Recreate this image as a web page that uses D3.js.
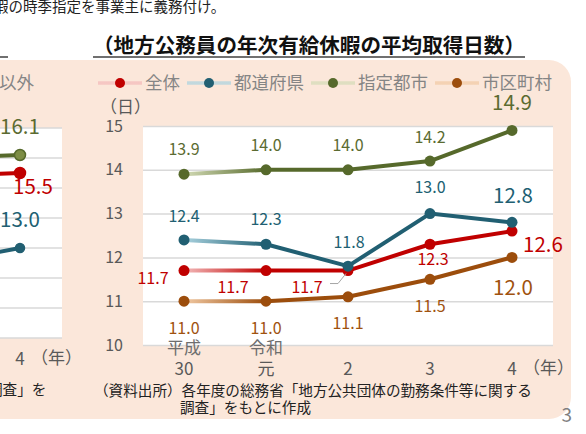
<!DOCTYPE html>
<html lang="ja">
<head>
<meta charset="utf-8">
<script src="https://cdn.jsdelivr.net/npm/d3@7"></script>
<style>
  html, body { margin: 0; padding: 0; background: #fff; overflow: hidden; }
  svg { display: block; font-family: "Noto Sans CJK JP", "Noto Sans", sans-serif; }
</style>
</head>
<body>
<svg id="chart"></svg>
<script>
// main chart data
const years = ['30', '元', '2', '3', '4'];
const eras = ['平成', '令和', '', '', ''];
const seriesNames = ['全体', '都道府県', '指定都市', '市区町村'];
const zentai = [11.7, 11.7, 11.7, 12.3, 12.6];
const todofuken = [12.4, 12.3, 11.8, 13.0, 12.8];
const shitei = [13.9, 14.0, 14.0, 14.2, 14.9];
const shikuchoson = [11.0, 11.0, 11.1, 11.5, 12.0];
const yTicks = [10, 11, 12, 13, 14, 15];

// neighbour chart, cut off at the left edge (only its last year shows)
const leftYears = ['3', '4'];
const leftShitei = [16.0, 16.1];
const leftZentai = [15.4, 15.5];
const leftTodofuken = [12.5, 13.0];
const leftTicks = [10, 11, 12, 13, 14, 15, 16, 17];

(function () {
  'use strict';

  const W = 586, H = 434;
  const FONT = '"Noto Sans CJK JP", "Noto Sans", sans-serif';
  const svg = d3.select('#chart').attr('width', W).attr('height', H);
  const defs = svg.append('defs');

  const series = [
    { name: seriesNames[0], values: zentai, color: '#c00000', light: '#f3b9b9', text: '#c00000' },
    { name: seriesNames[1], values: todofuken, color: '#215f72', light: '#a9d2df', text: '#215f72' },
    { name: seriesNames[2], values: shitei, color: '#56692b', light: '#d3dbb6', text: '#5b6b31' },
    { name: seriesNames[3], values: shikuchoson, color: '#9c4d0c', light: '#f1c9a3', text: '#a0520f' }
  ];

  // label offsets from each point: dx, dy, big?
  const labelPos = {
    '全体': [[-31, 8, 0], [-33, 17, 0], [-41, 17, 0], [3, 15, 0], [31, 13, 1]],
    '都道府県': [[0, -24, 0], [0, -25, 0], [1, -24, 0], [0, -26, 0], [1, -27, 1]],
    '指定都市': [[0, -25, 0], [0, -25, 0], [0, -25, 0], [0, -24, 0], [0, -28, 1]],
    '市区町村': [[0, 27, 0], [0, 27, 0], [0, 26, 0], [0, 27, 0], [1, 30, 1]]
  };

  // fragment of the text above
  svg.append('text')
    .attr('x', -6).attr('y', 12)
    .attr('font-size', 14.5).attr('fill', '#222')
    .text('暇の時季指定を事業主に義務付け。');

  // peach panel
  const p = { x0: -20, y0: 60, x1: 571, y1: 419, r: 22 };
  svg.append('path')
    .attr('d', `M${p.x0},${p.y0} H${p.x1 - p.r} A${p.r},${p.r} 0 0 1 ${p.x1},${p.y0 + p.r}` +
      ` V${p.y1 - p.r} A${p.r},${p.r} 0 0 1 ${p.x1 - p.r},${p.y1} H${p.x0} Z`)
    .attr('fill', '#fbe7da');

  // title
  svg.append('text')
    .attr('x', 93).attr('y', 53)
    .attr('font-size', 20.5).attr('font-weight', 700).attr('fill', '#111')
    .attr('textLength', 432).attr('lengthAdjust', 'spacingAndGlyphs')
    .text('（地方公務員の年次有給休暇の平均取得日数）');
  svg.append('line')
    .attr('x1', 93).attr('x2', 525).attr('y1', 57).attr('y2', 57)
    .attr('stroke', '#404040').attr('stroke-width', 1.5);
  svg.append('line')
    .attr('x1', 0).attr('x2', 8).attr('y1', 57).attr('y2', 57)
    .attr('stroke', '#404040').attr('stroke-width', 1.5);

  // ---- left (cropped) chart ----
  const lx = d3.scalePoint().domain(leftYears).range([-62, 20]);
  const ly = d3.scaleLinear().domain([10, 17]).range([338, 128]);
  svg.append('rect')
    .attr('x', -5).attr('y', ly(17)).attr('width', 67).attr('height', ly(10) - ly(17))
    .attr('fill', '#fff');
  svg.append('g')
    .selectAll('line')
    .data(leftTicks)
    .join('line')
      .attr('x1', -5).attr('x2', 62)
      .attr('y1', d => ly(d)).attr('y2', d => ly(d))
      .attr('stroke', '#d9d9d9').attr('stroke-width', 1.5);

  const leftSeries = [
    { values: leftShitei, color: '#56692b', fill: '#7d8d45', text: '#5b6b31', r: 5.5, lab: [0, -28] },
    { values: leftZentai, color: '#c00000', fill: '#c00000', text: '#c00000', r: 5.5, lab: [13, 14] },
    { values: leftTodofuken, color: '#215f72', fill: '#215f72', text: '#215f72', r: 4.5, lab: [0, -28] }
  ];
  const lline = d3.line().x((d, i) => lx(leftYears[i])).y(d => ly(d));
  leftSeries.forEach(s => {
    svg.append('path').datum(s.values)
      .attr('d', lline).attr('fill', 'none')
      .attr('stroke', s.color).attr('stroke-width', 4);
    const last = s.values[s.values.length - 1];
    svg.append('circle')
      .attr('cx', lx('4')).attr('cy', ly(last)).attr('r', s.r)
      .attr('fill', s.fill).attr('stroke', s.color).attr('stroke-width', 1.5);
    svg.append('text')
      .attr('x', lx('4') + s.lab[0]).attr('y', ly(last) + s.lab[1]).attr('dy', '0.36em')
      .attr('text-anchor', 'middle').attr('font-size', 20.5).attr('fill', s.text)
      .text(d3.format('.1f')(last));
  });
  svg.append('text')
    .attr('x', -1).attr('y', 83).attr('dy', '0.36em')
    .attr('font-size', 17.5).attr('fill', '#858585')
    .text('以外');
  svg.append('text')
    .attr('x', lx('4')).attr('y', 359).attr('dy', '0.36em')
    .attr('text-anchor', 'middle').attr('font-size', 17).attr('fill', '#595959')
    .text('4');
  svg.append('text')
    .attr('x', 31).attr('y', 358).attr('dy', '0.36em')
    .attr('font-size', 17).attr('fill', '#595959')
    .text('（年）');
  svg.append('text')
    .attr('x', -12).attr('y', 390).attr('dy', '0.36em')
    .attr('font-size', 14.6).attr('fill', '#222')
    .text('調査」を');

  // ---- main chart ----
  const plot = { left: 143, right: 553, top: 126, bottom: 345 };
  const x = d3.scaleBand().domain(d3.range(years.length)).range([plot.left, plot.right]);
  const cx = i => x(i) + x.bandwidth() / 2;
  const y = d3.scaleLinear().domain([10, 15]).range([plot.bottom, plot.top]);

  svg.append('rect')
    .attr('x', plot.left).attr('y', plot.top)
    .attr('width', plot.right - plot.left).attr('height', plot.bottom - plot.top)
    .attr('fill', '#fff');

  // gridlines
  svg.append('g')
    .attr('transform', `translate(${plot.left},0)`)
    .call(d3.axisLeft(y).tickValues(yTicks).tickSize(-(plot.right - plot.left)).tickFormat(''))
    .call(g => g.select('.domain').remove())
    .call(g => g.selectAll('line').attr('stroke', '#d9d9d9').attr('stroke-width', 1.5));

  // y labels
  svg.append('g')
    .attr('transform', `translate(${plot.left},0)`)
    .call(d3.axisLeft(y).tickValues(yTicks).tickSize(0).tickPadding(20).tickFormat(d3.format('d')))
    .attr('font-family', FONT).attr('font-size', 16)
    .call(g => g.select('.domain').remove())
    .call(g => g.selectAll('text').attr('fill', '#595959'));

  svg.append('text')
    .attr('x', 100).attr('y', 107).attr('dy', '0.36em')
    .attr('font-size', 17).attr('fill', '#595959')
    .text('（日）');

  // x labels
  const xl = svg.append('g');
  xl.selectAll('.era')
    .data(eras)
    .join('text')
      .attr('class', 'era')
      .attr('x', (d, i) => cx(i)).attr('y', 348).attr('dy', '0.36em')
      .attr('text-anchor', 'middle').attr('font-size', 17).attr('fill', '#6e6e6e')
      .text(d => d);
  xl.selectAll('.year')
    .data(years)
    .join('text')
      .attr('class', 'year')
      .attr('x', (d, i) => cx(i)).attr('y', 369).attr('dy', '0.36em')
      .attr('text-anchor', 'middle').attr('font-size', 17).attr('fill', '#595959')
      .text(d => d);
  svg.append('text')
    .attr('x', cx(4) + 11).attr('y', 368).attr('dy', '0.36em')
    .attr('font-size', 17).attr('fill', '#595959')
    .text('（年）');

  // lines, first segment fades in from a light tint
  const line = d3.line().x((d, i) => cx(i)).y(d => y(d));
  series.forEach((s, k) => {
    const gid = 'fade' + k;
    const grad = defs.append('linearGradient')
      .attr('id', gid).attr('gradientUnits', 'userSpaceOnUse')
      .attr('x1', cx(0)).attr('x2', cx(1)).attr('y1', 0).attr('y2', 0);
    grad.append('stop').attr('offset', 0).attr('stop-color', s.light);
    grad.append('stop').attr('offset', 1).attr('stop-color', s.color);

    svg.append('path')
      .datum(s.values)
      .attr('d', line)
      .attr('fill', 'none')
      .attr('stroke', `url(#${gid})`)
      .attr('stroke-width', 4)
      .attr('stroke-linejoin', 'round');

    svg.append('g')
      .selectAll('circle')
      .data(s.values)
      .join('circle')
        .attr('cx', (d, i) => cx(i))
        .attr('cy', d => y(d))
        .attr('r', 5.5)
        .attr('fill', s.color);
  });

  // leader line for the crowded 11.7
  svg.append('polyline')
    .attr('points', [[cx(2) - 18, y(zentai[2]) + 13], [cx(2) - 10, y(zentai[2]) + 13], [cx(2) - 2, y(zentai[2]) + 3]].join(' '))
    .attr('fill', 'none').attr('stroke', '#a6a6a6').attr('stroke-width', 1);

  // data labels
  series.forEach(s => {
    svg.append('g')
      .selectAll('text')
      .data(s.values)
      .join('text')
        .attr('x', (d, i) => cx(i) + labelPos[s.name][i][0])
        .attr('y', (d, i) => y(d) + labelPos[s.name][i][1])
        .attr('dy', '0.36em')
        .attr('text-anchor', 'middle')
        .attr('font-size', (d, i) => labelPos[s.name][i][2] ? 20.5 : 16)
        .attr('fill', s.text)
        .text(d => d3.format('.1f')(d));
  });

  // legend
  let lxPos = 98;
  series.forEach((s, k) => {
    const gid = 'leg' + k;
    const grad = defs.append('linearGradient')
      .attr('id', gid).attr('gradientUnits', 'userSpaceOnUse')
      .attr('x1', lxPos).attr('x2', lxPos + 22).attr('y1', 0).attr('y2', 0);
    grad.append('stop').attr('offset', 0).attr('stop-color', s.light).attr('stop-opacity', 0.7);
    grad.append('stop').attr('offset', 0.5).attr('stop-color', s.light);
    grad.append('stop').attr('offset', 1).attr('stop-color', s.color);
    const g = svg.append('g').attr('transform', `translate(${lxPos},83)`);
    g.append('line')
      .attr('x1', 0).attr('x2', 44).attr('y1', 0).attr('y2', 0)
      .attr('stroke', `url(#${gid})`).attr('stroke-width', 3.5);
    g.append('circle').attr('cx', 22).attr('r', 5).attr('fill', s.color);
    const t = g.append('text')
      .attr('x', 47).attr('dy', '0.36em')
      .attr('font-size', 17.5).attr('fill', '#858585')
      .text(s.name);
    lxPos += 47 + t.node().getComputedTextLength() + 7;
  });

  // source note
  const note = svg.append('g').attr('font-size', 14.6).attr('fill', '#222');
  note.append('text').attr('x', 94).attr('y', 391).attr('dy', '0.36em')
    .text('（資料出所）各年度の総務省「地方公共団体の勤務条件等に関する');
  note.append('text').attr('x', 180).attr('y', 408).attr('dy', '0.36em')
    .text('調査」をもとに作成');

  // page number
  svg.append('text')
    .attr('x', 572).attr('y', 415).attr('dy', '0.36em')
    .attr('text-anchor', 'end').attr('font-size', 19).attr('fill', '#7f7f7f')
    .text('3');
}());
</script>
</body>
</html>
